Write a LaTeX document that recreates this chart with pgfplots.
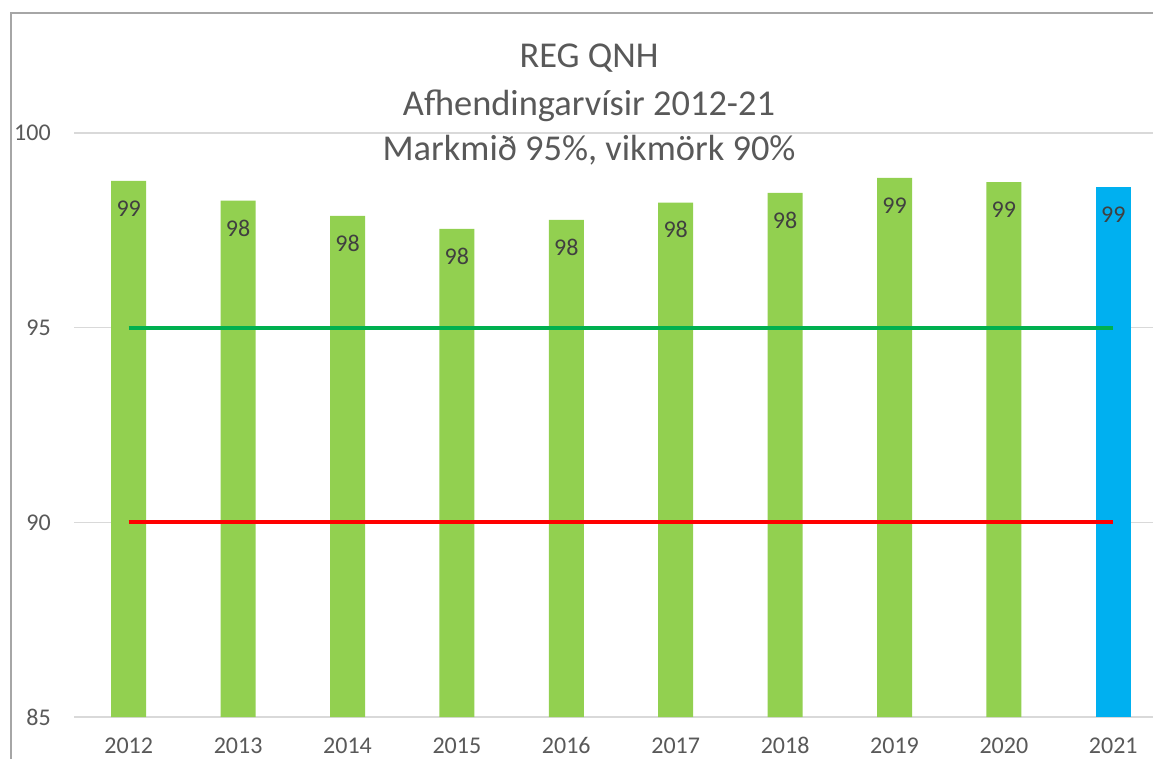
\documentclass[border=0pt]{standalone}
\usepackage{pgfplots}
\pgfplotsset{compat=1.18}
\usepackage{fontspec}
\setmainfont{Carlito}
\definecolor{barg}{HTML}{92D050}
\definecolor{barb}{HTML}{00B0F0}
\definecolor{lgreen}{HTML}{00B050}
\definecolor{lred}{HTML}{FF0000}
\definecolor{gridc}{HTML}{D9D9D9}
\definecolor{txt}{HTML}{595959}
\definecolor{lbl}{HTML}{404040}
\definecolor{framec}{HTML}{A6A6A6}
\begin{document}
\begin{tikzpicture}[x=0.75pt,y=0.75pt]
\useasboundingbox (0,0) rectangle (1153,758);
\clip (0,0) rectangle (1153,758);
\fill[white] (0,0) rectangle (1153,758);
\draw[framec, line width=1.1pt] (11,-30) rectangle (1185,745);
\begin{axis}[
  at={(55.5pt,30.75pt)}, anchor=south west,
  scale only axis, width=820.5pt, height=438pt,
  xmin=-0.5, xmax=9.5, ymin=85, ymax=100,
  xtick={0,...,9},
  xticklabels={2012,2013,2014,2015,2016,2017,2018,2019,2020,2021},
  ytick={85,90,95,100},
  ymajorgrids, grid style={gridc, line width=0.8pt},
  axis line style={draw=none},
  major tick length=0pt,
  /pgf/number format/assume math mode=true,
  tick label style={font=\fontsize{18pt}{21pt}\selectfont, text=txt},
  xticklabel style={anchor=base, inner sep=0pt, yshift=-27.5pt},
  yticklabel style={anchor=east, inner sep=0pt, xshift=-17.25pt},
  clip=false,
]
\addplot[ybar, bar width=26.25pt, bar shift=0pt, fill=barg, draw=none,
  point meta=y,
  nodes near coords={\pgfmathprintnumber[fixed,precision=0]{\pgfplotspointmeta}},
  every node near coord/.append style={font=\fontsize{18pt}{21pt}\selectfont, text=lbl, anchor=south, inner sep=0pt, yshift=-26.8pt}]
  coordinates {(0,98.77) (1,98.26) (2,97.87) (3,97.54) (4,97.77) (5,98.21) (6,98.46) (7,98.85) (8,98.74)};
\addplot[ybar, bar width=26.25pt, bar shift=0pt, fill=barb, draw=none,
  point meta=y,
  nodes near coords={\pgfmathprintnumber[fixed,precision=0]{\pgfplotspointmeta}},
  every node near coord/.append style={font=\fontsize{18pt}{21pt}\selectfont, text=lbl, anchor=south, inner sep=0pt, yshift=-26.8pt}]
  coordinates {(9,98.62)};
\addplot[lgreen, line width=3pt, no marks] coordinates {(0,95) (9,95)};
\addplot[lred, line width=3pt, no marks] coordinates {(0,90) (9,90)};
\end{axis}
\begin{scope}[every node/.style={text=txt, font=\fontsize{27.3pt}{32pt}\selectfont, anchor=base, inner sep=0pt}]
\node at (589,690) {REG QNH};
\node at (589,642) {Afhendingarvísir 2012-21};
\node at (589,597) {Markmið 95\%, vikmörk 90\%};
\end{scope}
\end{tikzpicture}
\end{document}
